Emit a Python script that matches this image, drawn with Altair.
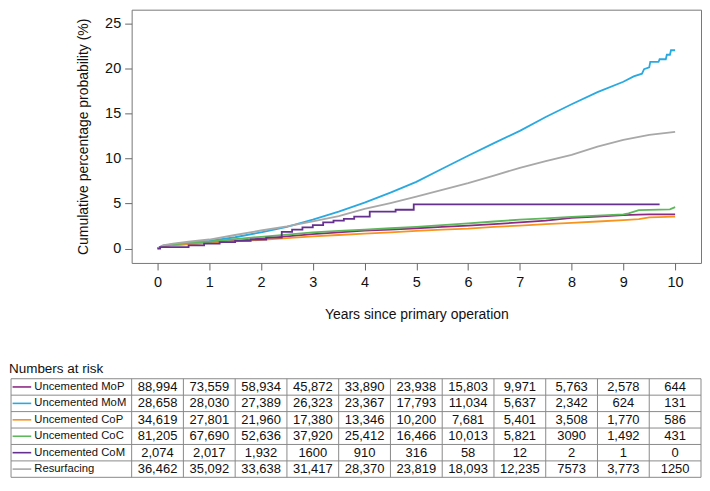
import altair as alt
import pandas as pd

# ---------------- data ----------------
series_names = ["Uncemented MoP", "Uncemented MoM", "Uncemented CoP",
                "Uncemented CoC", "Uncemented CoM", "Resurfacing"]
series_colors = ["#8E2A84", "#2AA9E0", "#F7941E", "#5DB75B", "#65308F", "#A8A8A8"]

mop_t = [0, 0.1, 0.3, 0.6, 1, 1.5, 2, 2.5, 3, 3.5, 4, 4.5, 5, 5.5, 6, 6.5, 7, 7.5, 8, 8.5, 9, 9.3, 9.5, 10]
mop_v = [0, 0.3, 0.4, 0.5, 0.65, 0.85, 1.1, 1.35, 1.6, 1.8, 2.0, 2.1, 2.25, 2.4, 2.55, 2.7, 2.9, 3.1, 3.4, 3.55, 3.7, 3.75, 3.8, 3.8]

mom_t = [0, 0.1, 0.3, 0.6, 1, 1.5, 2, 2.5, 3, 3.5, 4, 4.5, 5, 5.5, 6, 6.5, 7, 7.5, 8, 8.5, 9, 9.2,
         9.36, 9.4, 9.5, 9.52, 9.68, 9.7, 9.82, 9.84, 9.9, 9.92, 10]
mom_v = [0, 0.3, 0.5, 0.65, 0.85, 1.25, 1.8, 2.4, 3.2, 4.1, 5.1, 6.2, 7.4, 8.85, 10.3, 11.7, 13.05, 14.6, 16.0, 17.35, 18.5, 19.1,
         19.4, 19.9, 20.1, 20.7, 20.7, 21.0, 21.0, 21.5, 21.5, 22.0, 22.0]

cop_t = [0, 0.1, 0.3, 0.6, 1, 1.5, 2, 2.5, 3, 3.5, 4, 4.5, 5, 5.5, 6, 6.5, 7, 7.5, 8, 8.5, 9, 9.3, 9.5, 10]
cop_v = [0, 0.25, 0.4, 0.5, 0.6, 0.8, 0.95, 1.15, 1.35, 1.5, 1.65, 1.8, 1.95, 2.1, 2.2, 2.4, 2.55, 2.7, 2.85, 3.0, 3.15, 3.25, 3.45, 3.55]

coc_t = [0, 0.1, 0.3, 0.6, 1, 1.5, 2, 2.5, 3, 3.5, 4, 4.5, 5, 5.5, 6, 6.5, 7, 7.5, 8, 8.5, 9, 9.1, 9.3, 9.9, 10]
coc_v = [0, 0.3, 0.45, 0.6, 0.75, 1.05, 1.3, 1.55, 1.8, 1.95, 2.1, 2.25, 2.4, 2.6, 2.8, 3.0, 3.2, 3.35, 3.5, 3.65, 3.8, 3.9, 4.25, 4.35, 4.6]

com_t = [0, 0.05, 0.6, 0.9, 1.2, 1.5, 1.8, 2.1, 2.4, 2.6, 2.8, 3.0, 3.2, 3.4, 3.6, 3.8, 4.1, 4.6, 4.95, 9.7]
com_v = [0, 0.15, 0.35, 0.55, 0.7, 0.85, 1.0, 1.2, 1.85, 2.1, 2.35, 2.6, 2.9, 3.1, 3.3, 3.55, 4.1, 4.3, 4.9, 4.9]

res_t = [0, 0.1, 0.3, 0.6, 1, 1.5, 2, 2.5, 3, 3.5, 4, 4.5, 5, 5.5, 6, 6.5, 7, 7.5, 8, 8.5, 9, 9.5, 10]
res_v = [0, 0.35, 0.55, 0.75, 1.0, 1.5, 2.0, 2.45, 3.0, 3.6, 4.4, 5.05, 5.75, 6.5, 7.25, 8.1, 8.95, 9.7, 10.4, 11.3, 12.05, 12.6, 12.95]

y_ticks = [0, 5, 10, 15, 20, 25]
x_ticks = [0, 1, 2, 3, 4, 5, 6, 7, 8, 9, 10]

risk_years = [0, 1, 2, 3, 4, 5, 6, 7, 8, 9, 10]
risk_mop = ["88,994", "73,559", "58,934", "45,872", "33,890", "23,938", "15,803", "9,971", "5,763", "2,578", "644"]
risk_mom = ["28,658", "28,030", "27,389", "26,323", "23,367", "17,793", "11,034", "5,637", "2,342", "624", "131"]
risk_cop = ["34,619", "27,801", "21,960", "17,380", "13,346", "10,200", "7,681", "5,401", "3,508", "1,770", "586"]
risk_coc = ["81,205", "67,690", "52,636", "37,920", "25,412", "16,466", "10,013", "5,821", "3090", "1,492", "431"]
risk_com = ["2,074", "2,017", "1,932", "1600", "910", "316", "58", "12", "2", "1", "0"]
risk_res = ["36,462", "35,092", "33,638", "31,417", "28,370", "23,819", "18,093", "12,235", "7573", "3,773", "1250"]

table_title = "Numbers at risk"

# ---------------- frames ----------------
curves = {
    "Uncemented MoP": (mop_t, mop_v),
    "Uncemented MoM": (mom_t, mom_v),
    "Uncemented CoP": (cop_t, cop_v),
    "Uncemented CoC": (coc_t, coc_v),
    "Resurfacing": (res_t, res_v),
}
rows = []
for name, (ts, vs) in curves.items():
    for i, (t, v) in enumerate(zip(ts, vs)):
        rows.append({"series": name, "t": t, "v": v, "i": i})
smooth_df = pd.DataFrame(rows)
step_df = pd.DataFrame({"series": "Uncemented CoM", "t": com_t, "v": com_v, "i": list(range(len(com_t)))})

risk_lists = [risk_mop, risk_mom, risk_cop, risk_coc, risk_com, risk_res]
cell_rows = []
for r, (name, vals) in enumerate(zip(series_names, risk_lists)):
    for yr, s in zip(risk_years, vals):
        cell_rows.append({"row": r, "t": yr, "txt": s})
cells_df = pd.DataFrame(cell_rows)

label_df = pd.DataFrame({"series": series_names, "row": list(range(6)),
                         "x1": -2.80, "x2": -2.44, "tx": -2.38})

n_rows = len(series_names)
hlines_df = pd.DataFrame({"y": [r - 0.5 for r in range(n_rows + 1)], "x1": -2.83, "x2": 10.5})
vbounds = [-2.83] + [c + 0.5 for c in range(-1, 11)]
vlines_df = pd.DataFrame({"x": vbounds, "y1": -0.5, "y2": n_rows - 0.5})
title_df = pd.DataFrame({"x": [-2.87], "y": [-1.1], "txt": [table_title]})

# ---------------- chart ----------------
FONT = "Liberation Sans"
xscale = alt.Scale(domain=[-0.5, 10.5], nice=False, zero=False)
yscale = alt.Scale(domain=[-1.6, 26.5], nice=False, zero=False)
color = alt.Color("series:N", scale=alt.Scale(domain=series_names, range=series_colors), legend=None)

xaxis = alt.Axis(values=x_ticks, title="Years since primary operation", grid=False, domain=False,
                 tickSize=7, tickColor="#666", labelFontSize=14.5, labelColor="#111",
                 titleFontSize=14, titleFontWeight="normal", titleColor="#111",
                 labelPadding=6, titlePadding=18)
yaxis = alt.Axis(values=y_ticks, title="Cumulative percentage probability (%)", grid=False, domain=False,
                 tickSize=7, tickColor="#666", labelFontSize=14.5, labelColor="#111",
                 titleFontSize=14, titleFontWeight="normal", titleColor="#111",
                 labelPadding=4, titlePadding=14)

smooth = alt.Chart(smooth_df).mark_line(strokeWidth=1.8, interpolate="linear").encode(
    x=alt.X("t:Q", scale=xscale, axis=xaxis),
    y=alt.Y("v:Q", scale=yscale, axis=yaxis),
    color=color, order="i:Q", detail="series:N")
step = alt.Chart(step_df).mark_line(strokeWidth=1.8, interpolate="step-after").encode(
    x=alt.X("t:Q", scale=xscale, axis=xaxis),
    y=alt.Y("v:Q", scale=yscale, axis=yaxis),
    color=color, order="i:Q")

top = alt.layer(smooth, step).properties(
    width=571, height=254, view=alt.ViewBackground(stroke="#777", strokeWidth=1))

tx = alt.Scale(domain=[-0.5, 10.5], nice=False, zero=False)
ty = alt.Scale(domain=[-1.6, 5.5], nice=False, zero=False, reverse=True)
GRID = "#8a8a8a"

hl = alt.Chart(hlines_df).mark_rule(color=GRID, strokeWidth=1).encode(
    x=alt.X("x1:Q", scale=tx, axis=None), x2="x2:Q", y=alt.Y("y:Q", scale=ty, axis=None))
vl = alt.Chart(vlines_df).mark_rule(color=GRID, strokeWidth=1).encode(
    x=alt.X("x:Q", scale=tx, axis=None), y=alt.Y("y1:Q", scale=ty, axis=None), y2="y2:Q")
leg = alt.Chart(label_df).mark_rule(strokeWidth=1.6).encode(
    x=alt.X("x1:Q", scale=tx, axis=None), x2="x2:Q", y=alt.Y("row:Q", scale=ty, axis=None), color=color)
lab = alt.Chart(label_df).mark_text(align="left", baseline="middle", fontSize=11.3, color="#111", font=FONT).encode(
    x=alt.X("tx:Q", scale=tx, axis=None), y=alt.Y("row:Q", scale=ty, axis=None), text="series:N")
num = alt.Chart(cells_df).mark_text(align="center", baseline="middle", fontSize=13, color="#111", font=FONT).encode(
    x=alt.X("t:Q", scale=tx, axis=None), y=alt.Y("row:Q", scale=ty, axis=None), text="txt:N")
ttl = alt.Chart(title_df).mark_text(align="left", baseline="middle", fontSize=13.5, color="#111", font=FONT).encode(
    x=alt.X("x:Q", scale=tx, axis=None), y=alt.Y("y:Q", scale=ty, axis=None), text="txt:N")

bottom = alt.layer(hl, vl, leg, lab, num, ttl).properties(
    width=571, height=117, view=alt.ViewBackground(stroke="transparent"))

chart = alt.vconcat(top, bottom, spacing=98, bounds="flush").properties(padding=0).configure(
    font=FONT, background="white")

chart.save("out.html", embed_options={"renderer": "svg", "actions": False})
